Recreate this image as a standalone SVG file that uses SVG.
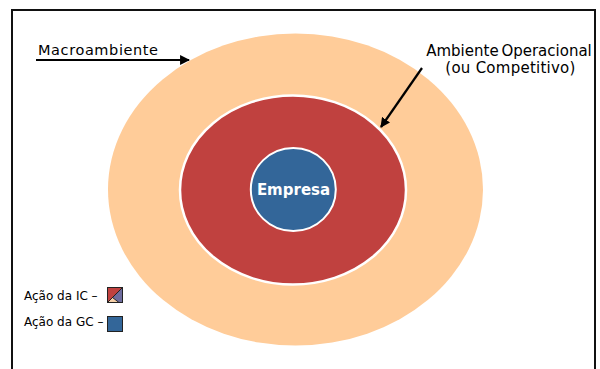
<svg xmlns="http://www.w3.org/2000/svg" width="600" height="369" viewBox="0 0 600 369">
<defs>
<style>
.t{font-family:"DejaVu Sans",Verdana,sans-serif;fill:#000}
.lbl{font-size:15px}
.leg{font-size:12px}
.ln{stroke:#000;stroke-width:2.2;fill:none}
</style>
<marker id="ah" viewBox="0 0 10 10" refX="9" refY="5" markerWidth="4.5" markerHeight="4.5" orient="auto" markerUnits="strokeWidth">
<path d="M0,0 L10,5 L0,10 z" fill="#000"/>
</marker>
</defs>
<rect x="0" y="0" width="600" height="369" fill="#fff"/>
<rect x="12" y="10" width="583" height="420" fill="none" stroke="#111" stroke-width="2"/>
<g id="macroambiente">
<ellipse cx="295.5" cy="189.5" rx="187.5" ry="156" fill="#FFCC99"/>
</g>
<g id="ambiente-operacional">
<ellipse cx="293" cy="190" rx="113" ry="94.5" fill="#C0413F" stroke="#fff" stroke-width="2.5"/>
</g>
<g id="empresa">
<ellipse cx="293.3" cy="189.5" rx="42.5" ry="41.5" fill="#336699" stroke="#fff" stroke-width="2"/>
<text class="t" x="293.5" y="194.5" text-anchor="middle" font-size="15" font-weight="bold" fill="#fff" style="fill:#fff">Empresa</text>
</g>
<g id="label-macro">
<text class="t" x="38" y="55" style="font-size:14.5px" letter-spacing="0.6">Macroambiente</text>
</g>
<g id="label-operacional">
<text class="t lbl" x="509" y="56" text-anchor="middle" word-spacing="-2">Ambiente Operacional</text>
<text class="t lbl" x="510.5" y="72.5" text-anchor="middle" letter-spacing="0.25">(ou Competitivo)</text>
</g>
<g id="connectors">
<line class="ln" x1="36" y1="60" x2="189" y2="60" marker-end="url(#ah)"/>
<line class="ln" x1="422" y1="68" x2="381" y2="127" marker-end="url(#ah)"/>
</g>
<g id="legend-ic">
<text class="t leg" x="24" y="299.5">Ação da IC –</text>
<polygon points="107.5,287.5 122.5,287.5 107.5,302.5" fill="#C0413F"/>
<polygon points="122.5,287.5 122.5,302.5 119,302.5 112.5,297.5" fill="#6E6C9E"/>
<polygon points="107.5,302.5 119,302.5 112.5,297.5" fill="#F5CFA8"/>
<line x1="122.5" y1="287.5" x2="107.5" y2="302.5" stroke="#222" stroke-width="1"/>
<line x1="112.5" y1="297.5" x2="119" y2="302.5" stroke="#222" stroke-width="1"/>
<rect x="107.5" y="287.5" width="15" height="15" fill="none" stroke="#222" stroke-width="1"/>
</g>
<g id="legend-gc">
<text class="t leg" x="24" y="326">Ação da GC –</text>
<rect x="107.5" y="316.5" width="15" height="15" fill="#336699" stroke="#222" stroke-width="1"/>
</g>
</svg>
